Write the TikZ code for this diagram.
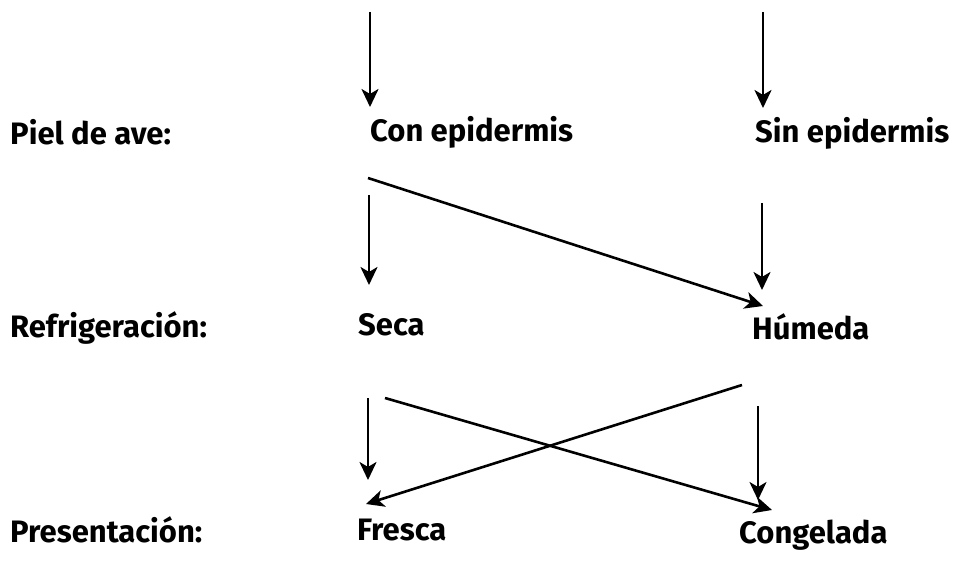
\documentclass[tikz,border=0pt]{standalone}
\usepackage{fontspec}
\setmainfont{Fira Sans}
\usetikzlibrary{arrows.meta}
\tikzset{
  lbl/.style={anchor=west, inner sep=0pt, font=\fontsize{31}{34}\selectfont\bfseries},
  arr/.style={line width=2.6pt, -{Stealth[length=18pt,width=17pt,inset=5pt]}},
}
\begin{document}
\begin{tikzpicture}[x=1pt,y=-1pt]
\useasboundingbox[fill=white] (0,0) rectangle (955,561);
% row labels
\node[lbl] (piel) at (10,132) {Piel de ave:};
\node[lbl] (refr) at (10,328) {Refrigeración:};
\node[lbl] (pres) at (10,530) {Presentación:};
% values
\node[lbl] (con) at (370,132) {Con epidermis};
\node[lbl] (sin) at (755,133) {Sin epidermis};
\node[lbl] (seca) at (358,325) {Seca};
\node[lbl] (hum) at (752,327) {Húmeda};
\node[lbl] (fres) at (357,530) {Fresca};
\node[lbl] (cong) at (739,535) {Congelada};
% arrow end points
\coordinate (inL) at (370,12);
\coordinate (conT) at (370,107);
\coordinate (inR) at (763,12);
\coordinate (sinT) at (763,108);
\coordinate (conB) at (369,195);
\coordinate (secaT) at (369,285);
\coordinate (conD) at (368,178);
\coordinate (humTL) at (763,306);
\coordinate (sinB) at (762,203);
\coordinate (humT) at (762,290);
\coordinate (secaB) at (368,398);
\coordinate (fresT) at (368,480);
\coordinate (secaD) at (385,398);
\coordinate (congTL) at (772,510);
\coordinate (humD) at (742,385);
\coordinate (fresTR) at (366,504);
\coordinate (humB) at (758,406);
\coordinate (congT) at (758,500);
% connectors
\draw[arr] (inL) -- (conT);
\draw[arr] (inR) -- (sinT);
\draw[arr] (conB) -- (secaT);
\draw[arr] (conD) -- (humTL);
\draw[arr] (sinB) -- (humT);
\draw[arr] (secaB) -- (fresT);
\draw[arr] (secaD) -- (congTL);
\draw[arr] (humD) -- (fresTR);
\draw[arr] (humB) -- (congT);
\end{tikzpicture}
\end{document}
